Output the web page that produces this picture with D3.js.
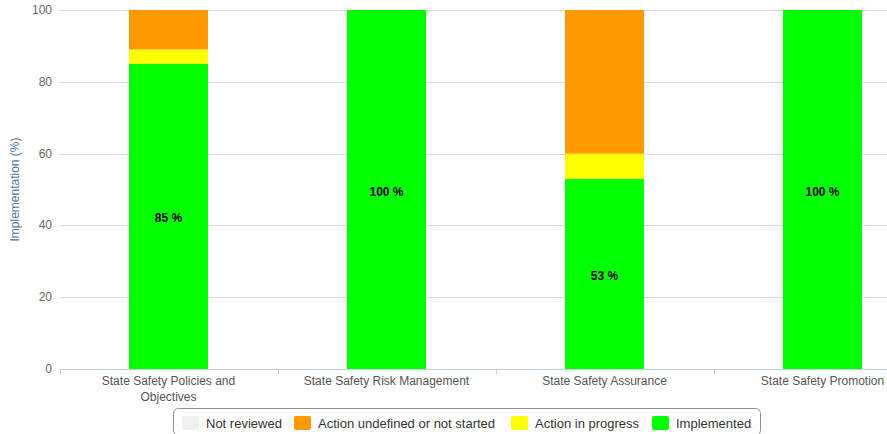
<!DOCTYPE html>
<html>
<head>
<meta charset="utf-8">
<script src="https://cdn.jsdelivr.net/npm/d3@7/dist/d3.min.js"></script>
<style>
  body { margin: 0; background: #fff; }
  svg { font-family: "Liberation Sans", Arial, sans-serif; display: block; }
</style>
</head>
<body>
<div id="chart"></div>
<script>
var categories = [
  ["State Safety Policies and", "Objectives"],
  ["State Safety Risk Management"],
  ["State Safety Assurance"],
  ["State Safety Promotion"]
];
var seriesNames = ["Not reviewed", "Action undefined or not started", "Action in progress", "Implemented"];
var seriesColors = ["#f0f0f0", "#ff9900", "#ffff00", "#00ff00"];
var notReviewed = [0, 0, 0, 0];
var undefinedAction = [11, 0, 40, 0];
var inProgress = [4, 0, 7, 0];
var implemented = [85, 100, 53, 100];
var yTicks = [0, 20, 40, 60, 80, 100];

var width = 887, height = 434;
var margin = {top: 10, left: 59.5, bottom: 65};

// stack from the bottom: implemented, in progress, undefined, not reviewed
var rows = categories.map(function(c, i) {
  return {i: i, implemented: implemented[i], inProgress: inProgress[i],
          undefinedAction: undefinedAction[i], notReviewed: notReviewed[i]};
});
var keys = ["implemented", "inProgress", "undefinedAction", "notReviewed"];
var keyColor = {implemented: seriesColors[3], inProgress: seriesColors[2],
                undefinedAction: seriesColors[1], notReviewed: seriesColors[0]};
var layers = d3.stack().keys(keys)(rows);

// plot continues past the right edge of the window
var x = d3.scaleBand()
  .domain(d3.range(categories.length))
  .range([margin.left, margin.left + 218 * categories.length])
  .paddingInner(0).paddingOuter(0);

var y = d3.scaleLinear()
  .domain([0, 100])
  .range([height - margin.bottom, margin.top]);

var barW = 79;

var svg = d3.select("#chart").append("svg")
  .attr("width", width)
  .attr("height", height);

// grid
svg.append("g").selectAll("line")
  .data(yTicks.filter(function(d) { return d > 0; }))
  .enter().append("line")
  .attr("x1", margin.left).attr("x2", width)
  .attr("y1", function(d) { return Math.round(y(d)) + 0.5; })
  .attr("y2", function(d) { return Math.round(y(d)) + 0.5; })
  .attr("stroke", "#d8d8d8");

// y labels
svg.append("g").selectAll("text")
  .data(yTicks)
  .enter().append("text")
  .attr("x", 52)
  .attr("y", function(d) { return y(d) + 4; })
  .attr("text-anchor", "end")
  .attr("fill", "#666")
  .style("font-size", "12px")
  .text(function(d) { return d; });

svg.append("text")
  .attr("transform", "translate(19," + ((y(0) + y(100)) / 2) + ") rotate(-90)")
  .attr("text-anchor", "middle")
  .attr("fill", "#4d759e")
  .style("font-size", "12px")
  .text("Implementation (%)");

// bars
svg.append("g").selectAll("g")
  .data(layers)
  .enter().append("g")
  .attr("fill", function(d) { return keyColor[d.key]; })
  .selectAll("rect")
  .data(function(d) { return d; })
  .enter().append("rect")
  .filter(function(d) { return d[1] > d[0]; })
  .attr("x", function(d) { return x(d.data.i) + x.bandwidth() / 2 - barW / 2; })
  .attr("width", barW)
  .attr("y", function(d) { return y(d[1]); })
  .attr("height", function(d) { return y(d[0]) - y(d[1]); });

// value labels inside implemented
svg.append("g").selectAll("text")
  .data(layers[0])
  .enter().append("text")
  .attr("x", function(d) { return x(d.data.i) + x.bandwidth() / 2; })
  .attr("y", function(d) { return (y(d[0]) + y(d[1])) / 2 + 6; })
  .attr("text-anchor", "middle")
  .style("font-size", "12px")
  .style("font-weight", "bold")
  .attr("fill", "#000")
  .text(function(d) { return d.data.implemented + " %"; });

// x axis
var axisY = Math.round(y(0)) + 0.5;
svg.append("line")
  .attr("x1", margin.left).attr("x2", width)
  .attr("y1", axisY).attr("y2", axisY)
  .attr("stroke", "#c0d0e0");

svg.append("g").selectAll("line")
  .data(d3.range(categories.length + 1))
  .enter().append("line")
  .attr("x1", function(d) { return Math.round(margin.left + d * x.bandwidth()) + 0.5; })
  .attr("x2", function(d) { return Math.round(margin.left + d * x.bandwidth()) + 0.5; })
  .attr("y1", axisY).attr("y2", axisY + 5)
  .attr("stroke", "#c0d0e0");

svg.append("g").selectAll("text")
  .data(categories)
  .enter().append("text")
  .attr("text-anchor", "middle")
  .attr("fill", "#555")
  .style("font-size", "12px")
  .attr("x", function(d, i) { return x(i) + x.bandwidth() / 2; })
  .attr("y", axisY + 15)
  .each(function(d) {
    var t = d3.select(this);
    d.forEach(function(line, k) {
      t.append("tspan")
        .attr("x", t.attr("x"))
        .attr("dy", k === 0 ? 0 : 16)
        .text(line);
    });
  });

// legend
var legend = svg.append("g");
legend.append("rect")
  .attr("x", 173.5).attr("y", 408.5)
  .attr("width", 587).attr("height", 27)
  .attr("rx", 5)
  .attr("fill", "#fff")
  .attr("stroke", "#909090");

var legendX = [182, 294, 511, 652];
var item = legend.selectAll("g.item")
  .data(seriesNames)
  .enter().append("g")
  .attr("class", "item")
  .attr("transform", function(d, i) { return "translate(" + legendX[i] + ",416)"; });

item.append("rect")
  .attr("width", 17).attr("height", 14)
  .attr("rx", 2)
  .attr("fill", function(d, i) { return seriesColors[i]; });

item.append("text")
  .attr("x", 24).attr("y", 12)
  .attr("fill", "#333")
  .style("font-size", "13px")
  .text(function(d) { return d; });
</script>
</body>
</html>
